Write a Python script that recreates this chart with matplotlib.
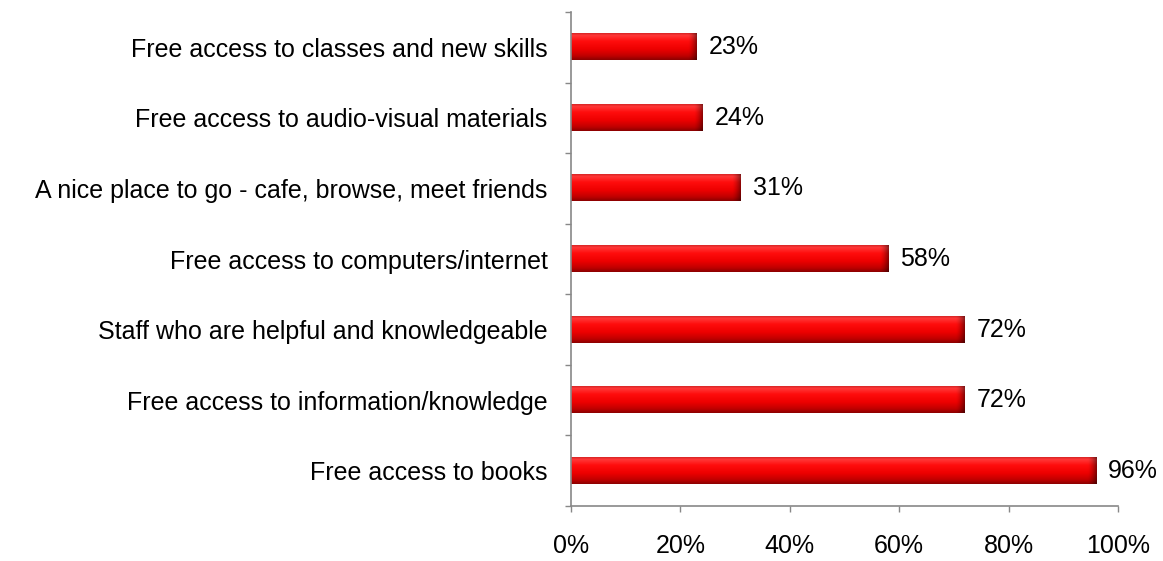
import numpy as np
from matplotlib import pyplot as plt

plt.rcParams['font.family'] = ['Liberation Sans', 'DejaVu Sans']

# bottom to top
labels = ['Free access to books',
          'Free access to information/knowledge',
          'Staff who are helpful and knowledgeable',
          'Free access to computers/internet',
          'A nice place to go - cafe, browse, meet friends',
          'Free access to audio-visual materials',
          'Free access to classes and new skills']
values = [96, 72, 72, 58, 31, 24, 23]
xticks = [0, 20, 40, 60, 80, 100]

fig = plt.figure(figsize=(11.63, 5.61), dpi=100)
ax = fig.add_axes([571/1163, 55/561, 547/1163, 494/561])

y = np.arange(len(values))
h = 0.37
ax.barh(y, values, height=h, color='#e00000', zorder=1)

# vertical shading for the cylinder look (top -> bottom)
stops = [0.0, 0.08, 0.3, 0.6, 0.85, 1.0]
cols = np.array([[0.85, 0.15, 0.15],
                 [1.0, 0.22, 0.22],
                 [1.0, 0.05, 0.05],
                 [0.93, 0.0, 0.0],
                 [0.75, 0.0, 0.0],
                 [0.55, 0.0, 0.0]])
t = np.linspace(0, 1, 60)
vert = np.stack([np.interp(t, stops, cols[:, k]) for k in range(3)], axis=1)

for yi, v in zip(y, values):
    xs = np.linspace(0, v, 400)
    shade = np.ones_like(xs)
    edge = xs > v - 1.6
    shade[edge] = 1 - 0.45 * ((xs[edge] - (v - 1.6)) / 1.6) ** 1.5
    img = vert[:, None, :] * shade[None, :, None]
    ax.imshow(img, extent=[0, v, yi - h/2, yi + h/2], aspect='auto',
              interpolation='bilinear', zorder=2)
    ax.text(v + 2.2, yi, f'{v}%', va='center', ha='left', fontsize=18)

ax.set_xlim(0, 100)
ax.set_ylim(-0.5, len(values) - 0.5)

ax.set_xticks(xticks)
ax.set_xticklabels([f'{v}%' for v in xticks], fontsize=18)
ax.set_yticks(y)
ax.set_yticklabels(labels, fontsize=18)
ax.set_yticks(np.arange(-0.5, len(values), 1), minor=True)

ax.tick_params(axis='y', which='major', length=0, pad=17)
ax.tick_params(axis='y', which='minor', length=4, width=1, color='#888888', direction='out')
ax.tick_params(axis='x', length=4, width=1, color='#888888', pad=16)

for s in ['top', 'right']:
    ax.spines[s].set_visible(False)
for s in ['left', 'bottom']:
    ax.spines[s].set_color('#888888')
    ax.spines[s].set_linewidth(1.2)

fig.savefig('out.png', dpi=100)
